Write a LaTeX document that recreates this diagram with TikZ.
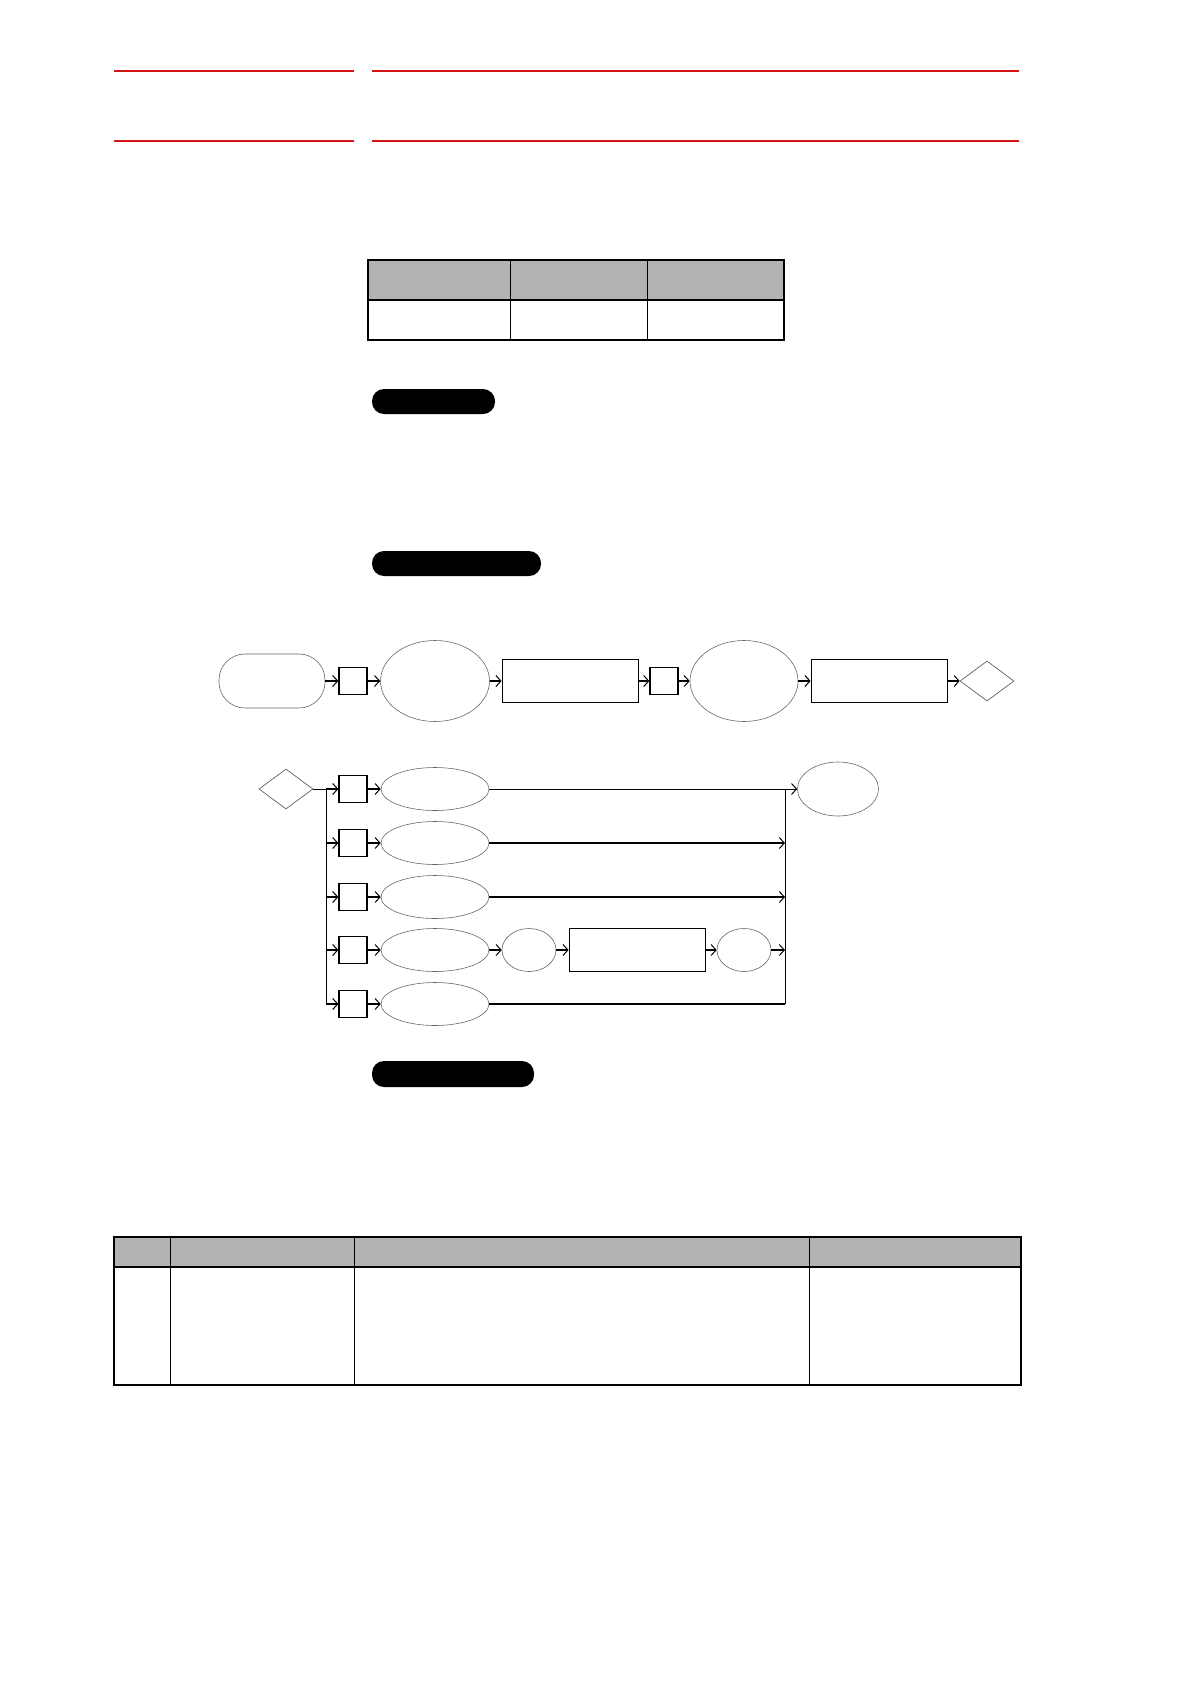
\documentclass[tikz,border=0pt]{standalone}
\usetikzlibrary{arrows,arrows.meta,positioning,shapes}
\definecolor{hdrgray}{RGB}{179,179,179}
\definecolor{rulered}{RGB}{210,20,20}
\tikzset{
  conn/.style={-{Straight Barb[length=5pt,width=11pt,line width=1pt]},line width=1.1pt},
  gate/.style={draw,line width=1.3pt,minimum width=28pt,minimum height=27pt,inner sep=0pt},
  state/.style={ellipse,draw=black!60,line width=0.6pt,inner sep=0pt},
  task/.style={draw,line width=0.8pt,inner sep=0pt,minimum width=136pt,minimum height=43pt},
  branch/.style={diamond,draw=black!70,line width=0.6pt,inner sep=0pt,minimum width=54pt,minimum height=40pt},
  pill/.style={fill=black,rounded corners=12pt}
}
\begin{document}
\begin{tikzpicture}[x=1pt,y=-1pt]
\useasboundingbox (0,0) rectangle (1190,1684);
% header rules
\draw[rulered,line width=2pt] (114,71)--(354,71) (372,71)--(1019,71);
\draw[rulered,line width=2pt] (114,141)--(354,141) (372,141)--(1019,141);
% small table
\fill[hdrgray] (368,260) rectangle (784,300);
\draw[line width=0.5pt] (510,260)--(510,340) (647,260)--(647,340);
\draw[line width=1.2pt] (368,300)--(784,300);
\draw[line width=1.2pt] (368,260) rectangle (784,340);
% labels
\fill[pill] (372,389) rectangle (495,414);
\fill[pill] (372,551) rectangle (541,576);
\fill[pill] (372,1061) rectangle (534,1087);
% first flow
\node[draw=black!60,line width=0.6pt,rounded corners=26pt,minimum width=106pt,minimum height=54pt] (start) at (272,681) {};
\node[gate] (g1) at (353,681) {};
\node[state,minimum width=109pt,minimum height=81pt] (s1) at (435,681) {};
\node[task] (t1) at (570,681) {};
\node[gate] (g2) at (664,681) {};
\node[state,minimum width=108pt,minimum height=81pt] (s2) at (744,681) {};
\node[task] (t2) at (879,681) {};
\node[branch] (d1) at (987,681) {};
\draw[conn] (start) -- (g1);
\draw[conn] (g1) -- (s1);
\draw[conn] (s1) -- (t1);
\draw[conn] (t1) -- (g2);
\draw[conn] (g2) -- (s2);
\draw[conn] (s2) -- (t2);
\draw[conn] (t2) -- (d1);
% second flow
\node[branch] (d2) at (286,789) {};
\coordinate (busL) at (326,789);
\coordinate (busR) at (785,789);
\foreach \i/\y in {1/789,2/843,3/897,4/950,5/1004}{
  \node[gate] (h\i) at (353,\y) {};
  \node[state,minimum width=108pt,minimum height=43pt] (e\i) at (435,\y) {};
  \draw[conn] (busL |- h\i) -- (h\i);
  \draw[conn] (h\i) -- (e\i);
}
\node[state,minimum width=81pt,minimum height=54pt] (fin) at (838,789) {};
\node[state,minimum width=54pt,minimum height=43pt] (c1) at (529,950) {};
\node[task] (t3) at (637,950) {};
\node[state,minimum width=54pt,minimum height=43pt] (c2) at (744,950) {};
\draw[line width=0.8pt] (d2) -- (busL) -- (busL |- h5);
\draw[line width=0.8pt] (busR) -- (busR |- e5);
\draw[conn,line width=0.8pt] (e1) -- (fin);
\draw[conn] (e2) -- (busR |- e2);
\draw[conn] (e3) -- (busR |- e3);
\draw[conn] (e4) -- (c1);
\draw[conn] (c1) -- (t3);
\draw[conn] (t3) -- (c2);
\draw[conn] (c2) -- (busR |- c2);
\draw[line width=1.1pt] (e5) -- (busR |- e5);
% bottom table
\fill[hdrgray] (114,1237) rectangle (1021,1267);
\draw[line width=0.5pt] (170,1237)--(170,1385) (354,1237)--(354,1385) (809,1237)--(809,1385);
\draw[line width=1.2pt] (114,1267)--(1021,1267);
\draw[line width=1.2pt] (114,1237) rectangle (1021,1385);
\end{tikzpicture}
\end{document}
